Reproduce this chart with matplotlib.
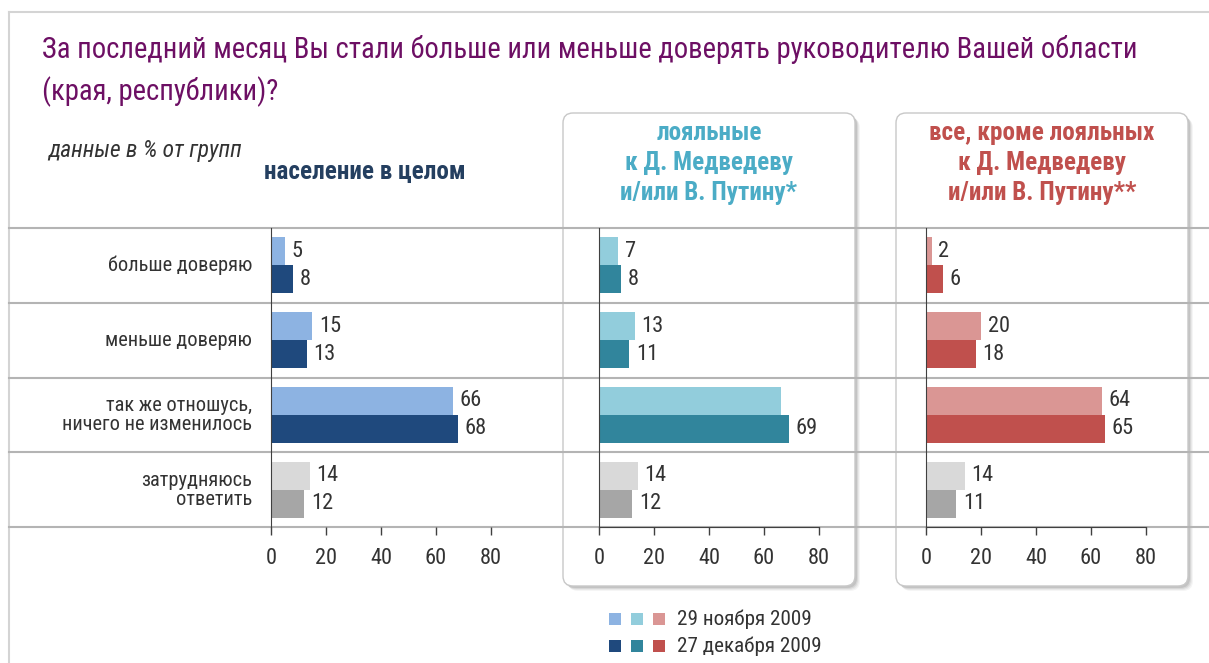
import matplotlib
matplotlib.use('Agg')
import matplotlib.pyplot as plt
from matplotlib import font_manager
from matplotlib.transforms import Affine2D, blended_transform_factory
from matplotlib.patches import FancyBboxPatch, Rectangle
from matplotlib.lines import Line2D

# ---------- данные ----------
categories = ['больше доверяю', 'меньше доверяю',
              'так же отношусь,\nничего не изменилось', 'затрудняюсь\nответить']
all_nov = [5, 15, 66, 14]
all_dec = [8, 13, 68, 12]
loyal_nov = [7, 13, 66, 14]
loyal_dec = [8, 11, 69, 12]
other_nov = [2, 20, 64, 14]
other_dec = [6, 18, 65, 11]
ticks = [0, 20, 40, 60, 80]
legend_labels = ['29 ноября 2009', '27 декабря 2009']

title = ('За последний месяц Вы стали больше или меньше доверять руководителю Вашей области\n'
         '(края, республики)?')
subtitle = 'данные в % от групп'
headers = ['население в целом',
           'лояльные\nк Д. Медведеву\nи/или В. Путину*',
           'все, кроме лояльных\nк Д. Медведеву\nи/или В. Путину**']

# цвета: [светлый, тёмный] для каждой панели, серый для "затрудняюсь"
panel_colors = [['#8db3e2', '#1f497d'], ['#92cddc', '#31859c'], ['#da9694', '#c0504d']]
gray_colors = ['#d9d9d9', '#a6a6a6']
header_colors = ['#243f60', '#4bacc6', '#c0504d']
hidden_labels = {(1, 2, 0)}  # в оригинале нет подписи у этого столбика

# ---------- шрифт ----------
names = {f.name for f in font_manager.fontManager.ttflist}
FONT, K = 'DejaVu Sans', 0.78
for cand, k in [('Liberation Sans Narrow', 1.0), ('Roboto Condensed', 0.95),
                ('Open Sans', 0.8), ('Roboto', 0.82)]:
    if cand in names:
        FONT, K = cand, k
        break
plt.rcParams['font.family'] = [FONT, 'DejaVu Sans']

W, H = 1209, 663
fig = plt.figure(figsize=(W / 100, H / 100), dpi=100)
px = Affine2D().scale(1 / W, -1 / H).translate(0, 1) + fig.transFigure

# рамка
fig.add_artist(Line2D([9, W], [12, 12], transform=px, color='#d4d4d4', lw=1.5, zorder=-3))
fig.add_artist(Line2D([9, 9], [12, H], transform=px, color='#d4d4d4', lw=1.5, zorder=-3))

# панели с тенью
for bx in [563, 896]:
    for off, a in [(5, 0.04), (4, 0.05), (3, 0.07), (2, 0.09)]:
        fig.add_artist(FancyBboxPatch((bx + off, 113 + off), 292, 473, transform=px,
                                      boxstyle='round,pad=0,rounding_size=10',
                                      fc='black', ec='none', alpha=a, zorder=-2.5))
    fig.add_artist(FancyBboxPatch((bx, 113), 292, 473, transform=px,
                                  boxstyle='round,pad=0,rounding_size=10',
                                  fc='white', ec='#c8c8c8', lw=1, zorder=-2))

fig.text(42 / W, 1 - 71 / H, title, fontsize=21.7 * K, color='#6d0f64',
         ha='left', va='center', linespacing=1.55)
fig.text(48 / W, 1 - 150 / H, subtitle, fontsize=17.8 * K, color='#333333',
         style='italic', ha='left', va='center')

# ---------- графики ----------
x0s = [271, 599, 926]
scale = 2.75
series = [(all_nov, all_dec), (loyal_nov, loyal_dec), (other_nov, other_dec)]
bh = 0.373
axes = []
for i, (x0, (nov, dec)) in enumerate(zip(x0s, series)):
    ax = fig.add_axes([x0 / W, 1 - 527 / H, 80 * scale / W, 299 / H])
    ax.patch.set_alpha(0)
    for r in range(len(categories)):
        cols = gray_colors if r == 3 else panel_colors[i]
        for s, vals in enumerate([nov, dec]):
            yc = r - bh / 2 if s == 0 else r + bh / 2
            ax.barh(yc, vals[r], height=bh, color=cols[s], zorder=2)
            if (i, r, s) not in hidden_labels:
                ax.text(vals[r] + 2.5, yc, str(vals[r]), va='center', ha='left',
                        fontsize=17 * K, color='#333333')
    ax.set_xlim(0, 80)
    ax.set_ylim(3.5, -0.5)
    ax.set_yticks([])
    ax.set_xticks(ticks)
    ax.tick_params(axis='x', direction='out', length=6, width=1, color='#404040',
                   labelsize=17 * K, labelcolor='#333333', pad=9)
    for sp in ['top', 'right']:
        ax.spines[sp].set_visible(False)
    ax.spines['left'].set_color('#404040')
    ax.spines['bottom'].set_color('#404040')
    if i == 0:
        ax.spines['bottom'].set_visible(False)
    axes.append(ax)

# подписи строк
for r, lab in enumerate(categories):
    axes[0].text(-6.9, r, lab, ha='right', va='center', multialignment='right',
                 fontsize=15.4 * K, color='#333333', linespacing=1.0, clip_on=False)

# горизонтальные линии строк через всю ширину
tr = blended_transform_factory(fig.transFigure, axes[0].transData)
for y in [-0.5, 0.5, 1.5, 2.5, 3.5]:
    fig.add_artist(Line2D([9 / W, 1], [y, y], transform=tr, color='#b4b4b4', lw=1.5, zorder=-1))

# заголовки панелей
fig.text(365 / W, 1 - 172 / H, headers[0], fontsize=19 * K, color=header_colors[0],
         weight='bold', ha='center', va='center')
for i, cx in [(1, 709), (2, 1042)]:
    fig.text(cx / W, 1 - 163 / H, headers[i], fontsize=19 * K, color=header_colors[i],
             weight='bold', ha='center', va='center', linespacing=1.3)

# легенда
for s, ly in enumerate([619, 646]):
    for i, lx in enumerate([609, 631, 653]):
        fig.add_artist(Rectangle((lx, ly - 6), 12, 12, transform=px,
                                 fc=panel_colors[i][s], ec='none'))
    fig.text(677 / W, 1 - ly / H, legend_labels[s], fontsize=16 * K, color='#333333',
             ha='left', va='center')

fig.savefig('out.png', dpi=100)
